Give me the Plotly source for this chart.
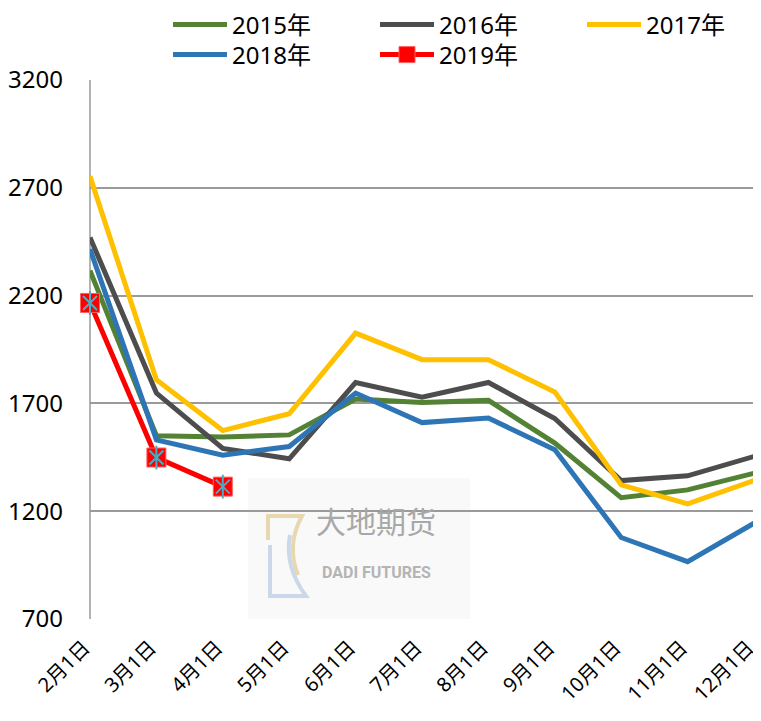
import plotly.graph_objects as go

categories = ["2月1日", "3月1日", "4月1日", "5月1日", "6月1日", "7月1日",
              "8月1日", "9月1日", "10月1日", "11月1日", "12月1日"]
y2015 = [2316, 1550, 1544, 1554, 1720, 1704, 1714, 1516, 1263, 1299, 1376]
y2016 = [2470, 1748, 1491, 1443, 1797, 1729, 1797, 1630, 1342, 1364, 1454]
y2017 = [2753, 1810, 1574, 1652, 2026, 1903, 1903, 1753, 1322, 1234, 1342]
y2018 = [2416, 1531, 1460, 1500, 1748, 1611, 1632, 1485, 1078, 966, 1144]
y2019 = [2166, 1449, 1314]
yticks = [700, 1200, 1700, 2200, 2700, 3200]

FONT = "Noto Sans, Noto Sans CJK SC, sans-serif"
OFF = 8  # default page body margin
W, H = 761 - OFF, 721 - OFF
PL, PT, PW, PH = 90, 80, 664, 539  # plot area in page pixels


def px_x(px):
    return (px - PL) / PW


def px_y(py):
    return (PT + PH - py) / PH


fig = go.Figure()

# watermark
fig.add_shape(type="rect", xref="paper", yref="paper",
              x0=px_x(248), x1=px_x(470), y0=0, y1=px_y(478),
              fillcolor="#f9f9f9", line=dict(width=0), layer="below")
fig.add_annotation(text="大地期货", xref="paper", yref="paper",
                   x=px_x(376), y=px_y(544), showarrow=False,
                   font=dict(family=FONT, size=30, color="#a8a8a8"))
fig.add_annotation(text="<b>DADI FUTURES</b>", xref="paper", yref="paper",
                   x=px_x(376), y=px_y(584), showarrow=False,
                   font=dict(family="Roboto, sans-serif", size=16, color="#b4b4b4"))
fig.add_shape(type="path", xref="paper", yref="paper",
              path=f"M {px_x(268)} {px_y(540)} L {px_x(268)} {px_y(516)} L {px_x(302)} {px_y(516)} "
                   f"Q {px_x(286)} {px_y(545)} {px_x(298)} {px_y(575)}",
              line=dict(color="#e8d8b0", width=4), layer="below")
fig.add_shape(type="path", xref="paper", yref="paper",
              path=f"M {px_x(270)} {px_y(545)} L {px_x(270)} {px_y(596)} L {px_x(306)} {px_y(596)} "
                   f"Q {px_x(284)} {px_y(566)} {px_x(290)} {px_y(535)}",
              line=dict(color="#cad8ea", width=4), layer="below")

series = [("2015年", y2015, "#548235", "legend"),
          ("2016年", y2016, "#4d4d4d", "legend"),
          ("2017年", y2017, "#ffc000", "legend"),
          ("2018年", y2018, "#2e75b6", "legend2")]
for name, ys, color, lg in series:
    fig.add_trace(go.Scatter(x=categories[:len(ys)], y=ys, name=name, mode="lines",
                             line=dict(color=color, width=5), legend=lg))

fig.add_trace(go.Scatter(x=categories[:len(y2019)], y=y2019, name="2019年", mode="lines+markers",
                         line=dict(color="#ff0000", width=5), legend="legend2", cliponaxis=False,
                         marker=dict(symbol="square", size=19, color="#ff0000",
                                     line=dict(color="#ff6060", width=1))))
fig.add_trace(go.Scatter(x=categories[:len(y2019)], y=y2019, mode="markers", showlegend=False,
                         hoverinfo="skip", cliponaxis=False,
                         marker=dict(symbol="x-thin-open", size=14, color="#4bacc6",
                                     line=dict(color="#4bacc6", width=2))))
fig.add_trace(go.Scatter(x=categories[:len(y2019)], y=y2019, mode="markers", showlegend=False,
                         hoverinfo="skip", cliponaxis=False,
                         marker=dict(symbol="line-ns-open", size=17, color="#4bacc6",
                                     line=dict(color="#4bacc6", width=2))))

legend_common = dict(orientation="h", xanchor="left", yanchor="middle",
                     entrywidth=138, entrywidthmode="pixels", itemwidth=54,
                     font=dict(family=FONT, size=24), bgcolor="rgba(0,0,0,0)")

fig.update_layout(
    width=W, height=H,
    margin=dict(l=PL - OFF, r=W - (PL - OFF) - PW, t=PT - OFF, b=H - (PT - OFF) - PH,
                autoexpand=False),
    paper_bgcolor="white", plot_bgcolor="white",
    font=dict(family=FONT, size=22, color="#000000"),
    legend=dict(x=px_x(168), y=px_y(25), **legend_common),
    legend2=dict(x=px_x(168), y=px_y(55), **legend_common),
    xaxis=dict(type="category", range=[0, 10], showgrid=False, showline=False,
               tickangle=-45, tickfont=dict(family=FONT, size=20), ticks="",
               ticklabelstandoff=12, ticklabelshift=-6,
               zeroline=False, automargin=False),
    yaxis=dict(range=[700, 3200], tickvals=yticks, showgrid=True, gridcolor="#9a9a9a",
               gridwidth=1.5, showline=False, zeroline=False, ticks="",
               ticklabelstandoff=26, tickfont=dict(family=FONT, size=24), automargin=False),
)
fig.add_shape(type="line", xref="paper", yref="paper", x0=0, x1=0, y0=0, y1=1,
              line=dict(color="#9a9a9a", width=1.5), layer="below")

fig.write_html("out.html")
